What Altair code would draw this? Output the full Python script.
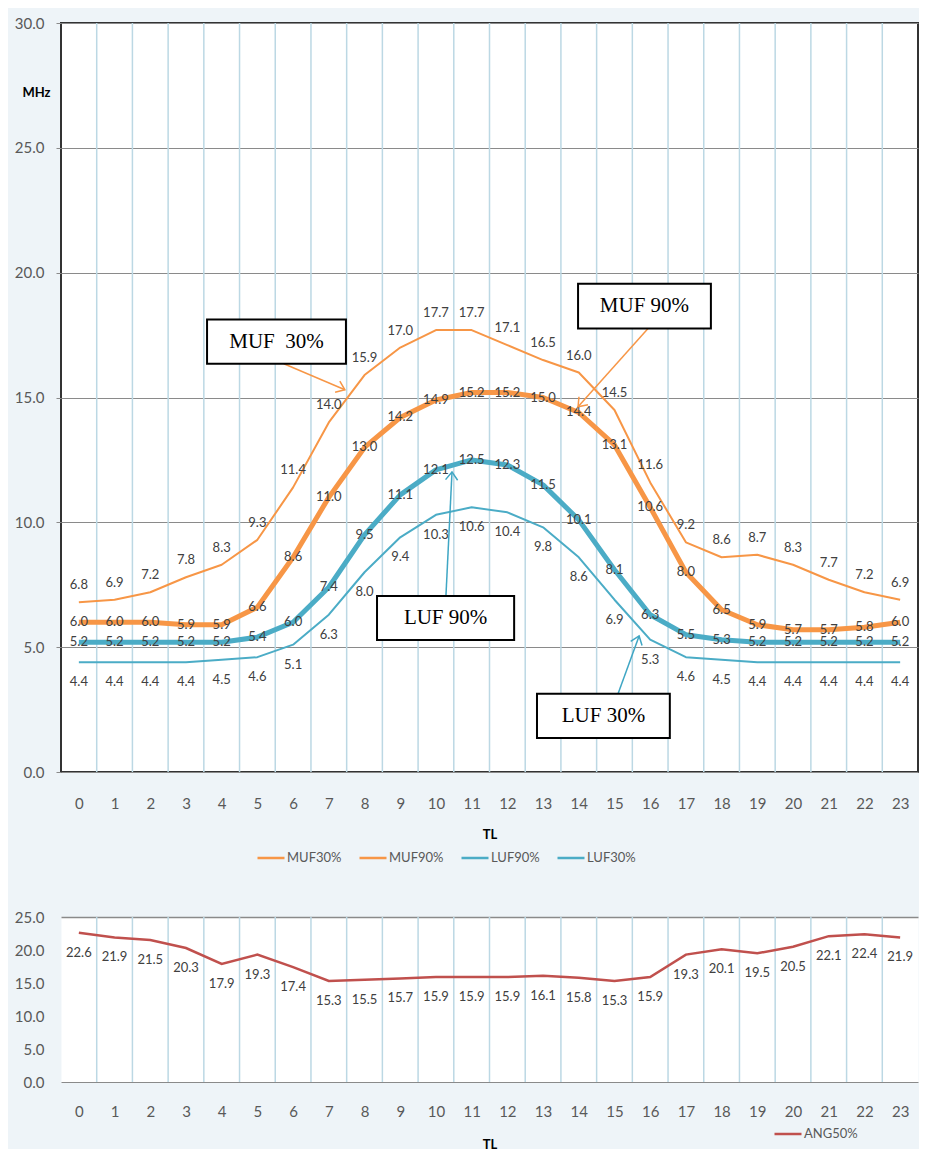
import altair as alt
import pandas as pd

hours = list(range(24))
muf30 = [6.8, 6.9, 7.2, 7.8, 8.3, 9.3, 11.4, 14.0, 15.9, 17.0, 17.7, 17.7,
         17.1, 16.5, 16.0, 14.5, 11.6, 9.2, 8.6, 8.7, 8.3, 7.7, 7.2, 6.9]
muf90 = [6.0, 6.0, 6.0, 5.9, 5.9, 6.6, 8.6, 11.0, 13.0, 14.2, 14.9, 15.2,
         15.2, 15.0, 14.4, 13.1, 10.6, 8.0, 6.5, 5.9, 5.7, 5.7, 5.8, 6.0]
luf90 = [5.2, 5.2, 5.2, 5.2, 5.2, 5.4, 6.0, 7.4, 9.5, 11.1, 12.1, 12.5,
         12.3, 11.5, 10.1, 8.1, 6.3, 5.5, 5.3, 5.2, 5.2, 5.2, 5.2, 5.2]
luf30 = [4.4, 4.4, 4.4, 4.4, 4.5, 4.6, 5.1, 6.3, 8.0, 9.4, 10.3, 10.6,
         10.4, 9.8, 8.6, 6.9, 5.3, 4.6, 4.5, 4.4, 4.4, 4.4, 4.4, 4.4]
ang50 = [22.6, 21.9, 21.5, 20.3, 17.9, 19.3, 17.4, 15.3, 15.5, 15.7, 15.9, 15.9,
         15.9, 16.1, 15.8, 15.3, 15.9, 19.3, 20.1, 19.5, 20.5, 22.1, 22.4, 21.9]

series_names = ["MUF30%", "MUF90%", "LUF90%", "LUF30%"]
series_values = [muf30, muf90, luf90, luf30]
series_colors = ["#F79646", "#F79646", "#4BACC6", "#4BACC6"]
series_widths = [2, 5, 5, 2]
label_dy = [-17, 0, 0, 20]

y_ticks_top = [0, 5, 10, 15, 20, 25, 30]
y_ticks_bottom = [0, 5, 10, 15, 20, 25]

# annotation callouts (data coordinates)
annot_text = ["MUF\u00a0 30%", "MUF 90%", "LUF 90%", "LUF 30%"]
annot_color = ["#F79646", "#F79646", "#3FA6C4", "#3FA6C4"]
box_x1 = [3.59, 13.98, 8.35, 12.83]
box_x2 = [7.48, 17.70, 12.19, 16.55]
box_y1 = [18.12, 19.56, 7.05, 3.13]
box_y2 = [16.35, 17.76, 5.29, 1.36]
arrow_x1 = [5.74, 15.94, 10.28, 15.10]
arrow_y1 = [16.35, 17.76, 7.05, 3.13]
arrow_x2 = [7.45, 13.98, 10.45, 15.69]
arrow_y2 = [15.31, 14.63, 12.02, 5.45]
arrow_angle = [23, 132, 273, 290]

FONT = "Lato"
LABEL_COLOR = "#595959"
VALUE_COLOR = "#404040"
GRID_BLUE = "#bcd8e4"
GRAY = "#8a8a8a"

rows = []
for name, vals in zip(series_names, series_values):
    for h, v in zip(hours, vals):
        rows.append({"TL": h, "series": name, "value": v})
df = pd.DataFrame(rows)

df_grid = pd.DataFrame({"g": [h + 0.5 for h in hours[:-1]]})

df_ann = pd.DataFrame({
    "text": annot_text, "color": annot_color,
    "bx1": box_x1, "bx2": box_x2, "by1": box_y1, "by2": box_y2,
    "ax1": arrow_x1, "ay1": arrow_y1, "ax2": arrow_x2, "ay2": arrow_y2,
    "angle": arrow_angle,
})
df_ann["tx"] = (df_ann["bx1"] + df_ann["bx2"]) / 2
df_ann["ty"] = (df_ann["by1"] + df_ann["by2"]) / 2

xscale = alt.Scale(domain=[-0.5, 23.5], nice=False, zero=False)
yscale_top = alt.Scale(domain=[0, 30], nice=False)
yscale_bot = alt.Scale(domain=[0, 25], nice=False)

x_axis_top = alt.Axis(values=hours, grid=False, ticks=False, domain=False,
                      labelPadding=24, labelFlush=False, labelOverlap=False, title="TL",
                      titleFontSize=13, titleFontWeight="bold", titleColor="#000000",
                      titlePadding=17, titleFont=FONT)
y_axis_top = alt.Axis(values=y_ticks_top, format=".1f", grid=True, gridColor=GRAY,
                      gridWidth=1, tickSize=5, tickColor=GRAY, labelPadding=12,
                      labelOverlap=False, domain=False, title="MHz", titleAngle=0,
                      titleX=-25, titleY=69, titleAlign="center", titleBaseline="middle",
                      titleFontSize=13, titleFontWeight="bold", titleColor="#000000",
                      titleFont=FONT)
x_axis_bot = alt.Axis(values=hours, grid=False, ticks=False, domain=True,
                      domainColor=GRAY, labelPadding=22, labelFlush=False,
                      labelOverlap=False, title="TL",
                      titleFontSize=13, titleFontWeight="bold", titleColor="#000000",
                      titlePadding=19, titleFont=FONT)
y_axis_bot = alt.Axis(values=y_ticks_bottom, format=".1f", grid=True, gridColor=GRAY,
                      gridWidth=1.5, gridOpacity=alt.expr("datum.value == 25 ? 1 : 0"),
                      ticks=False, domain=False, labelPadding=17, labelOverlap=False,
                      title=None)


def xt(field):
    return alt.X(field, scale=xscale, axis=x_axis_top, title="TL")


def yt(field):
    return alt.Y(field, scale=yscale_top, axis=y_axis_top, title="MHz")


def xb(field):
    return alt.X(field, scale=xscale, axis=x_axis_bot, title="TL")


def yb(field):
    return alt.Y(field, scale=yscale_bot, axis=y_axis_bot, title=None)


color_top = alt.Color(
    "series:N", sort=series_names,
    scale=alt.Scale(domain=series_names, range=series_colors),
    legend=alt.Legend(title=None, orient="none", legendX=195, legendY=820,
                      direction="horizontal", columns=4,
                      symbolType="stroke", symbolSize=729,
                      symbolStrokeWidth=2.5, labelFontSize=13,
                      labelColor=LABEL_COLOR, labelFont=FONT,
                      columnPadding=12, padding=0, labelOffset=1),
)

grid_top = alt.Chart(df_grid).mark_rule(color=GRID_BLUE, strokeWidth=1.5).encode(
    x=xt("g:Q")
)

line_layers = []
label_layers = []
for name, w, dy in zip(series_names, series_widths, label_dy):
    line_layers.append(
        alt.Chart(df).transform_filter(alt.datum.series == name)
        .mark_line(strokeWidth=w, strokeJoin="round")
        .encode(x=xt("TL:Q"), y=yt("value:Q"), color=color_top)
    )
    label_layers.append(
        alt.Chart(df).transform_filter(alt.datum.series == name)
        .mark_text(dy=dy, fontSize=13, font=FONT, color=VALUE_COLOR)
        .encode(x=xt("TL:Q"), y=yt("value:Q"),
                text=alt.Text("value:Q", format=".1f"))
    )

arrows = alt.Chart(df_ann).mark_rule(strokeWidth=1.5).encode(
    x=xt("ax1:Q"), y=yt("ay1:Q"), x2="ax2:Q", y2="ay2:Q",
    color=alt.Color("color:N", scale=None),
)
heads = alt.Chart(df_ann).mark_point(
    shape="M-1,-0.75L0,0L-1,0.75", filled=False, size=260, strokeWidth=1.5, opacity=1
).encode(
    x=xt("ax2:Q"), y=yt("ay2:Q"),
    angle=alt.Angle("angle:Q", scale=None),
    color=alt.Color("color:N", scale=None),
)
boxes = alt.Chart(df_ann).mark_rect(fill="white", stroke="black", strokeWidth=2).encode(
    x=xt("bx1:Q"), x2="bx2:Q", y=yt("by1:Q"), y2="by2:Q",
)
box_text = alt.Chart(df_ann).mark_text(font="Liberation Serif", fontSize=21,
                                       color="black").encode(
    x=xt("tx:Q"), y=yt("ty:Q"), text="text:N"
)

top = alt.layer(grid_top, *line_layers, *label_layers, arrows, heads, boxes,
                box_text).properties(
    width=857, height=749,
    view=alt.ViewBackground(fill="white", stroke="#333333", strokeWidth=2),
)

# bottom chart
df_ang = pd.DataFrame({"TL": hours, "value": ang50, "ang_series": ["ANG50%"] * len(hours)})

grid_bot = alt.Chart(df_grid).mark_rule(color=GRID_BLUE, strokeWidth=1.5).encode(
    x=xb("g:Q")
)
ang_line = alt.Chart(df_ang).mark_line(strokeWidth=2.5).encode(
    x=xb("TL:Q"),
    y=yb("value:Q"),
    color=alt.Color("ang_series:N",
                    scale=alt.Scale(domain=["ANG50%"], range=["#C0504D"]),
                    legend=alt.Legend(title=None, orient="none", legendX=712, legendY=202,
                                      symbolType="stroke", symbolSize=729,
                                      symbolStrokeWidth=2.5, labelFontSize=13,
                                      labelColor=LABEL_COLOR, labelFont=FONT,
                                      padding=0, labelOffset=1)),
)
ang_labels = alt.Chart(df_ang).mark_text(dy=20, fontSize=13, font=FONT,
                                         color=VALUE_COLOR).encode(
    x=xb("TL:Q"), y=yb("value:Q"),
    text=alt.Text("value:Q", format=".1f"),
)
bottom = alt.layer(grid_bot, ang_line, ang_labels).properties(
    width=857, height=165,
    view=alt.ViewBackground(fill="white", stroke="transparent"),
)

chart = alt.vconcat(top, bottom, spacing=43).resolve_scale(
    color="independent"
).properties(
    padding={"left": 5, "top": 7, "right": 0, "bottom": 0},
).configure(
    background="#eef4f8",
).configure_axis(
    labelFont=FONT, labelFontSize=15, labelColor=LABEL_COLOR,
)

chart.save("out.html", embed_options={"renderer": "svg", "actions": False})
